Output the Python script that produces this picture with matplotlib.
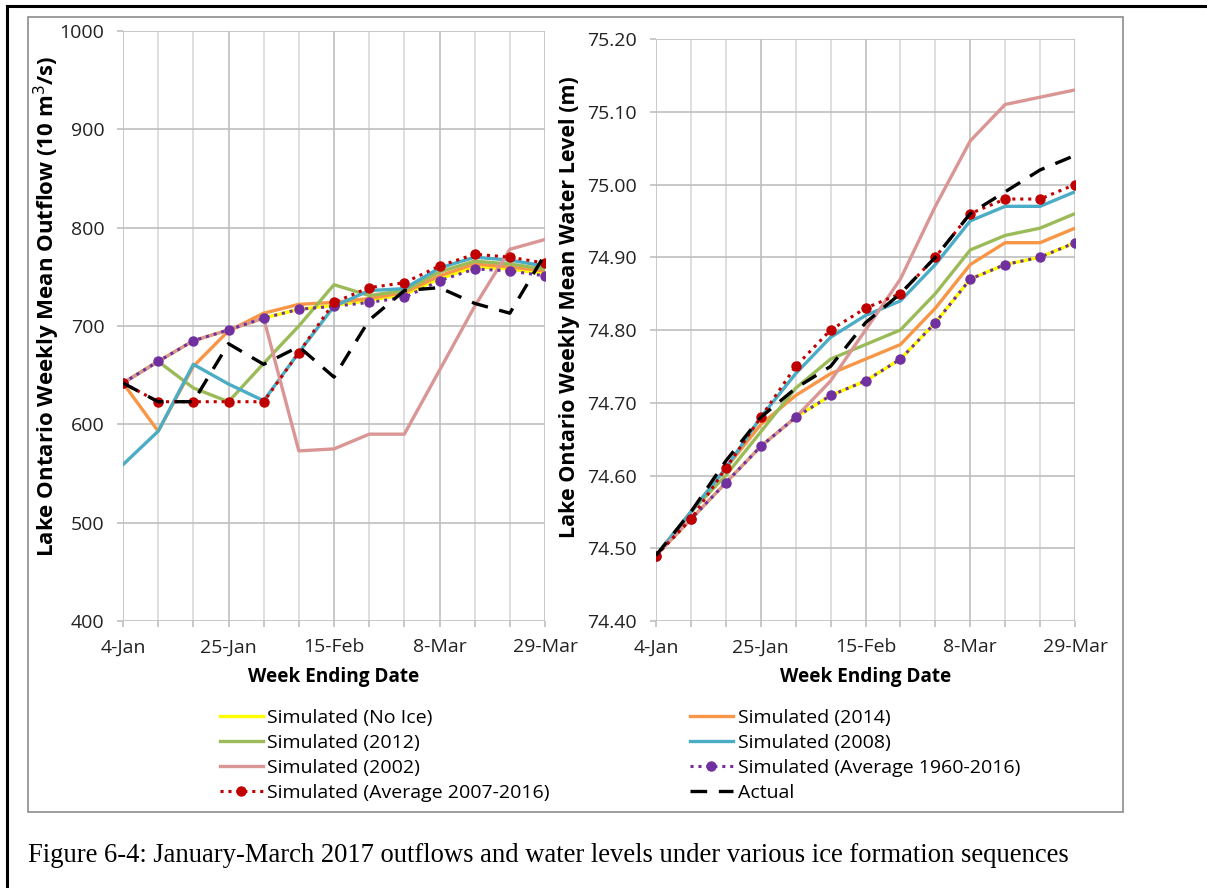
import matplotlib
matplotlib.use("Agg")
import matplotlib.pyplot as plt
from matplotlib.patches import Rectangle
from matplotlib.lines import Line2D

# week ending dates, Jan-Mar 2017
weeks = ['4-Jan', '11-Jan', '18-Jan', '25-Jan', '1-Feb', '8-Feb', '15-Feb',
         '22-Feb', '1-Mar', '8-Mar', '15-Mar', '22-Mar', '29-Mar']
tick_weeks = ['4-Jan', '25-Jan', '15-Feb', '8-Mar', '29-Mar']

# Lake Ontario weekly mean outflow (10 m3/s)
flow_noice = [642, 664, 685, 696, 708, 717, 721, 726, 732, 748, 760, 758, 753]
flow_2014 = [642, 593, 659, 695, 713, 722, 724, 728, 734, 751, 763, 760, 756]
flow_2012 = [642, 664, 637, 623, 662, 700, 742, 731, 736, 755, 766, 763, 758]
flow_2008 = [559, 593, 661, 641, 624, 673, 720, 736, 738, 759, 770, 767, 761]
flow_2002 = [642, 664, 685, 696, 708, 573, 575, 590, 590, 655, 720, 778, 788]
flow_avg60 = [642, 664, 685, 696, 708, 717, 720, 724, 729, 746, 758, 756, 751]
flow_avg07 = [642, 623, 623, 623, 623, 673, 724, 739, 744, 761, 773, 770, 764]
flow_actual = [642, 623, 623, 682, 661, 679, 648, 706, 736, 739, 723, 713, 773]

# Lake Ontario weekly mean water level (m)
lvl_noice = [74.49, 74.54, 74.59, 74.64, 74.68, 74.71, 74.73, 74.76, 74.81, 74.87, 74.89, 74.90, 74.92]
lvl_2014 = [74.49, 74.55, 74.61, 74.67, 74.71, 74.74, 74.76, 74.78, 74.83, 74.89, 74.92, 74.92, 74.94]
lvl_2012 = [74.49, 74.55, 74.60, 74.66, 74.72, 74.76, 74.78, 74.80, 74.85, 74.91, 74.93, 74.94, 74.96]
lvl_2008 = [74.49, 74.55, 74.61, 74.68, 74.74, 74.79, 74.82, 74.84, 74.89, 74.95, 74.97, 74.97, 74.99]
lvl_2002 = [74.49, 74.54, 74.59, 74.64, 74.68, 74.73, 74.80, 74.87, 74.97, 75.06, 75.11, 75.12, 75.13]
lvl_avg60 = [74.49, 74.54, 74.59, 74.64, 74.68, 74.71, 74.73, 74.76, 74.81, 74.87, 74.89, 74.90, 74.92]
lvl_avg07 = [74.49, 74.54, 74.61, 74.68, 74.75, 74.80, 74.83, 74.85, 74.90, 74.96, 74.98, 74.98, 75.00]
lvl_actual = [74.49, 74.55, 74.62, 74.68, 74.72, 74.75, 74.81, 74.85, 74.90, 74.96, 74.99, 75.02, 75.04]

labels = ['Simulated (No Ice)', 'Simulated (2014)', 'Simulated (2012)',
          'Simulated (2008)', 'Simulated (2002)', 'Simulated (Average 1960-2016)',
          'Simulated (Average 2007-2016)', 'Actual']

styles = [
    dict(color='#FFFF00', lw=2.4, ls='-'),
    dict(color='#F79646', lw=2.4, ls='-'),
    dict(color='#9BBB59', lw=2.4, ls='-'),
    dict(color='#4BACC6', lw=2.4, ls='-'),
    dict(color='#D99694', lw=2.4, ls='-'),
    dict(color='#7030A0', lw=2.2, ls=(0, (1, 1.6)), marker='o', ms=6.5),
    dict(color='#C00000', lw=2.2, ls=(0, (1, 1.6)), marker='o', ms=6.5),
    dict(color='black', lw=2.4, ls=(0, (5, 3.5))),
]

FONT = 'Open Sans'
plt.rcParams['font.family'] = FONT

fig = plt.figure(figsize=(12.07, 8.88), dpi=100)
W, H = 1207, 888


def box(x0, y0, x1, y1):
    return [x0 / W, 1 - y1 / H, (x1 - x0) / W, (y1 - y0) / H]


# outer page frame and chart frame
fig.add_artist(Line2D([7 / W, 7 / W], [0, 1 - 6 / H], color='black', lw=2.2))
fig.add_artist(Line2D([7 / W, 1], [1 - 6.5 / H, 1 - 6.5 / H], color='black', lw=2.2))
fig.add_artist(Rectangle((28 / W, 1 - 812 / H), (1123 - 28) / W, (812 - 17) / H,
                         fill=False, edgecolor='#8c8c8c', lw=1.2))

ax1 = fig.add_axes(box(123, 31, 545, 621))
ax2 = fig.add_axes(box(656, 39, 1075, 621))

x = list(range(len(weeks)))
flows = [flow_noice, flow_2014, flow_2012, flow_2008, flow_2002, flow_avg60, flow_avg07, flow_actual]
lvls = [lvl_noice, lvl_2014, lvl_2012, lvl_2008, lvl_2002, lvl_avg60, lvl_avg07, lvl_actual]

handles = []
for s, f, l, lab in zip(styles, flows, lvls, labels):
    h, = ax1.plot(x, f, label=lab, **s)
    ax2.plot(x, l, **s)
    handles.append(h)

for ax in (ax1, ax2):
    ax.set_xlim(0, 12)
    ax.set_xticks(range(0, 13, 3))
    ax.set_xticks(range(13), minor=True)
    ax.set_xticklabels(tick_weeks)
    for sp in ax.spines.values():
        sp.set_visible(False)
    ax.grid(True, which='major', color='#bfbfbf', lw=1.2)
    ax.grid(True, which='minor', axis='x', color='#d9d9d9', lw=1.2)
    ax.set_axisbelow(True)
    ax.tick_params(which='both', direction='out', length=4.5, color='#bfbfbf',
                   width=1.2, labelsize=14, labelcolor='#222222')
    ax.tick_params(axis='y', pad=9)
    ax.tick_params(axis='x', pad=8)
    ax.set_xlabel('Week Ending Date', fontsize=13.7, fontweight='bold', labelpad=8)

ax1.set_ylim(400, 1000)
ax1.set_yticks(range(400, 1001, 100))
ax2.set_ylim(74.40, 75.20)
ax2.set_yticks([74.40 + 0.1 * i for i in range(9)])
ax2.set_yticklabels(['%.2f' % (74.40 + 0.1 * i) for i in range(9)])

fig.text(47 / W, 1 - 306 / H, 'Lake Ontario Weekly Mean Outflow (10 m$^3$/s)',
         rotation=90, ha='center', va='center', fontsize=16, fontweight='bold')
fig.text(570 / W, 1 - 307 / H, 'Lake Ontario Weekly Mean Water Level (m)',
         rotation=90, ha='center', va='center', fontsize=15.5, fontweight='bold')

# legend: excel fills row-wise, matplotlib column-wise
order = [0, 2, 4, 6, 1, 3, 5, 7]
fig.legend([handles[i] for i in order], [labels[i] for i in order],
           ncol=2, loc='upper left', bbox_to_anchor=(212 / W, 1 - 701 / H),
           frameon=False, fontsize=14, handlelength=2.2, handletextpad=0.25,
           columnspacing=7.2, labelspacing=0.36, borderaxespad=0)

fig.text(28 / W, 1 - 855 / H,
         'Figure 6-4: January-March 2017 outflows and water levels under various ice formation sequences',
         ha='left', va='center', fontsize=19.2, family='Liberation Serif')

fig.savefig('out.png', dpi=100)
